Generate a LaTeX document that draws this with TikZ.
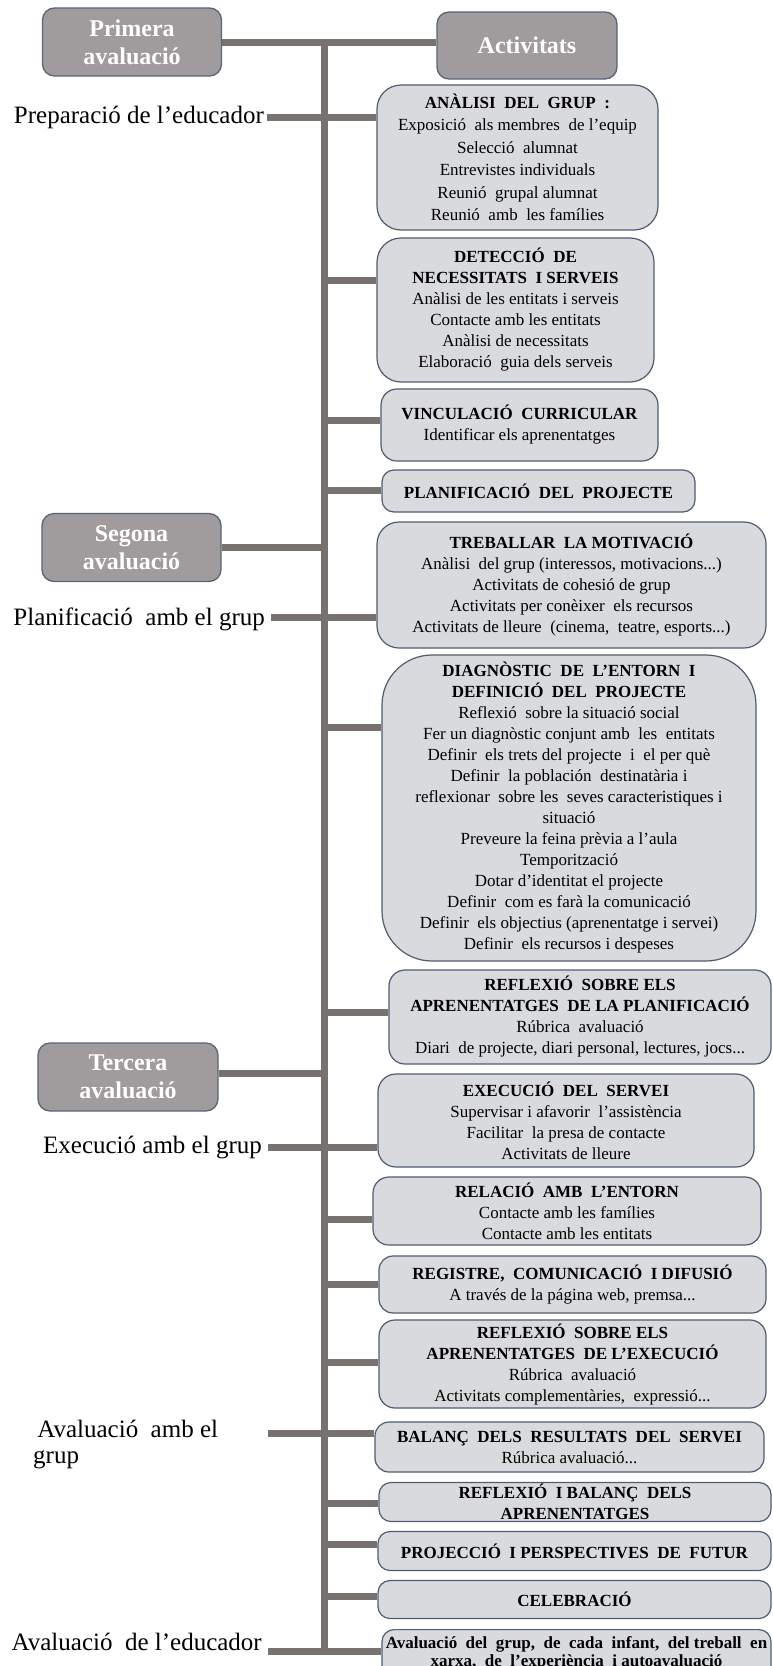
\documentclass[tikz,border=0pt]{standalone}
\usepackage{fontspec}
\setmainfont{Liberation Serif}
\definecolor{linecol}{HTML}{77716F}
\definecolor{darkfill}{HTML}{A09B9C}
\definecolor{darkborder}{HTML}{5C6575}
\definecolor{lightfill}{HTML}{D9DADD}
\definecolor{lightborder}{HTML}{4E5D70}
\pgfdeclarelayer{bg}
\pgfsetlayers{bg,main}
\tikzset{
  phase/.style={draw=darkborder, fill=darkfill, line width=1.3pt, rounded corners=12pt,
    minimum width=179pt, minimum height=68pt, text=white,
    font=\fontsize{24}{28}\selectfont\bfseries, align=center, inner sep=0pt},
  actbox/.style={draw=lightborder, fill=lightfill, line width=1.2pt, rounded corners=14pt,
    align=center, font=\fontsize{17}{21}\selectfont, inner sep=0pt},
  conn/.style={draw=linecol, line width=7pt},
  lbl/.style={font=\fontsize{25}{28}\selectfont, inner sep=0pt},
}
\begin{document}
\begin{tikzpicture}[x=1pt,y=-1pt]
\clip (0,0) rectangle (772,1666);

% phase boxes
\node[phase] (P1) at (132,42) {Primera\\avaluació};
\node[phase, minimum width=180pt, minimum height=67pt] (Act) at (527,45.5) {Activitats};
\node[phase] (Seg) at (131.5,547.5) {Segona\\avaluació};
\node[phase, minimum width=180pt] (Ter) at (128,1077) {Tercera\\avaluació};

% labels
\node[lbl, anchor=base east] (Lprep) at (264,123) {Preparació de l’educador};
\node[lbl, anchor=base east] (Lplan) at (265,625) {Planificació\ \ amb el grup};
\node[lbl, anchor=base east] (Lexec) at (262,1153) {Execució amb el grup};
\node[lbl, anchor=north west, align=left, font=\fontsize{25}{26}\selectfont] (Laval) at (33,1420) {\,Avaluació\ \ amb el\\grup};
\node[lbl, anchor=base east] (Ledu) at (262,1650) {Avaluació\ \ de l’educador};

% activity boxes
\node[actbox, rounded corners=24pt, minimum width=281pt, minimum height=145pt, font=\fontsize{17}{22.5}\selectfont] (A) at (517.5,157.5)
  {\textbf{ANÀLISI\ \ DEL\ \ GRUP\ \ :}\\Exposició\ \ als membres\ \ de l’equip\\Selecció\ \ alumnat\\Entrevistes individuals\\Reunió\ \ grupal alumnat\\Reunió\ \ amb\ \ les famílies};
\node[actbox, rounded corners=24pt, minimum width=277pt, minimum height=144pt] (B) at (515.5,310)
  {\textbf{DETECCIÓ\ \ DE}\\\textbf{NECESSITATS\ \ I SERVEIS}\\Anàlisi de les entitats i serveis\\Contacte amb les entitats\\Anàlisi de necessitats\\Elaboració\ \ guia dels serveis};
\node[actbox, rounded corners=16pt, minimum width=277pt, minimum height=72pt] (C) at (519.5,425)
  {\textbf{VINCULACIÓ\ \ CURRICULAR}\\Identificar els aprenentatges};
\node[actbox, rounded corners=12pt, minimum width=313pt, minimum height=42pt] (D) at (538.5,491)
  {\textbf{PLANIFICACIÓ\ \ DEL\ \ PROJECTE}};
\node[actbox, rounded corners=22pt, minimum width=389pt, minimum height=126pt] (E) at (571.5,585)
  {\textbf{TREBALLAR\ \ LA MOTIVACIÓ}\\Anàlisi\ \ del grup (interessos, motivacions...)\\Activitats de cohesió de grup\\Activitats per conèixer\ \ els recursos\\Activitats de lleure\ \ (cinema,\ \ teatre, esports...)};
\node[actbox, rounded corners=50pt, minimum width=374pt, minimum height=306pt] (F) at (569,808)
  {\textbf{DIAGNÒSTIC\ \ DE\ \ L’ENTORN\ \ I}\\\textbf{DEFINICIÓ\ \ DEL\ \ PROJECTE}\\Reflexió\ \ sobre la situació social\\Fer un diagnòstic conjunt amb\ \ les\ \ entitats\\Definir\ \ els trets del projecte\ \ i\ \ el per què\\Definir\ \ la población\ \ destinatària i\\reflexionar\ \ sobre les\ \ seves caracteristiques i\\situació\\Preveure la feina prèvia a l’aula\\Temporització\\Dotar d’identitat el projecte\\Definir\ \ com es farà la comunicació\\Definir\ \ els objectius (aprenentatge i servei)\\Definir\ \ els recursos i despeses};
\node[actbox, rounded corners=16pt, minimum width=382pt, minimum height=94pt] (G) at (580,1017)
  {\textbf{REFLEXIÓ\ \ SOBRE ELS}\\\textbf{APRENENTATGES\ \ DE LA PLANIFICACIÓ}\\Rúbrica\ \ avaluació\\Diari\ \ de projecte, diari personal, lectures, jocs...};
\node[actbox, rounded corners=18pt, minimum width=376pt, minimum height=93pt] (H) at (566,1120.5)
  {\textbf{EXECUCIÓ\ \ DEL\ \ SERVEI}\\Supervisar i afavorir\ \ l’assistència\\Facilitar\ \ la presa de contacte\\Activitats de lleure};
\node[actbox, rounded corners=16pt, minimum width=388pt, minimum height=68pt] (I) at (567,1211)
  {\textbf{RELACIÓ\ \ AMB\ \ L’ENTORN}\\Contacte amb les famílies\\Contacte amb les entitats};
\node[actbox, rounded corners=14pt, minimum width=387pt, minimum height=57pt] (J) at (572.5,1284.5)
  {\textbf{REGISTRE,\ \ COMUNICACIÓ\ \ I DIFUSIÓ}\\A través de la página web, premsa...};
\node[actbox, rounded corners=16pt, minimum width=387pt, minimum height=88pt] (K) at (572.5,1364)
  {\textbf{REFLEXIÓ\ \ SOBRE ELS}\\\textbf{APRENENTATGES\ \ DE L’EXECUCIÓ}\\Rúbrica\ \ avaluació\\Activitats complementàries,\ \ expressió...};
\node[actbox, rounded corners=14pt, minimum width=389pt, minimum height=50pt] (L) at (569.5,1447)
  {\textbf{BALANÇ\ \ DELS\ \ RESULTATS\ \ DEL\ \ SERVEI}\\Rúbrica avaluació...};
\node[actbox, rounded corners=12pt, minimum width=392pt, minimum height=39pt] (M) at (575,1502)
  {\textbf{REFLEXIÓ\ \ I BALANÇ\ \ DELS}\\\textbf{APRENENTATGES}};
\node[actbox, rounded corners=12pt, minimum width=393pt, minimum height=39pt] (N) at (574.5,1551)
  {\textbf{PROJECCIÓ\ \ I PERSPECTIVES\ \ DE\ \ FUTUR}};
\node[actbox, rounded corners=12pt, minimum width=393pt, minimum height=38pt] (O) at (574.5,1599.5)
  {\textbf{CELEBRACIÓ}};
\node[actbox, rounded corners=12pt, minimum width=389pt, minimum height=48pt, anchor=north, font=\fontsize{17}{18}\selectfont] (Pf) at (576.5,1629)
  {\textbf{Avaluació\ \ del\ \ grup,\ \ de\ \ cada\ \ infant,\ \ del treball\ \ en}\\\textbf{xarxa,\ \ de\ \ l’experiència\ \ i autoavaluació}};

% trunk and connector coordinates
\coordinate (ttop) at (324,42);
\coordinate (tbot) at (324,1654);
\coordinate (lA) at (267,117);
\coordinate (tB) at (324,280);
\coordinate (tC) at (324,420);
\coordinate (tD) at (324,490);
\coordinate (tSeg) at (324,547);
\coordinate (lE) at (271,617);
\coordinate (tF) at (324,727);
\coordinate (tG) at (324,1012);
\coordinate (tTer) at (324,1073);
\coordinate (lH) at (268,1147);
\coordinate (tI) at (324,1219);
\coordinate (tJ) at (324,1284);
\coordinate (tK) at (324,1362);
\coordinate (lL) at (268,1433);
\coordinate (tM) at (324,1503);
\coordinate (tN) at (324,1544);
\coordinate (tO) at (324,1596);
\coordinate (lP) at (268,1651);

\begin{pgfonlayer}{bg}
\fill[white] (0,0) rectangle (772,1666);
\draw[conn] (P1.east) -- (P1.east -| Act.west);
\draw[conn] (ttop) -- (tbot);
\draw[conn] (lA) -- (A.west |- lA);
\draw[conn] (tB) -- (B.west |- tB);
\draw[conn] (tC) -- (C.west |- tC);
\draw[conn] (tD) -- (D.west |- tD);
\draw[conn] (Seg.east |- tSeg) -- (tSeg);
\draw[conn] (lE) -- (E.west |- lE);
\draw[conn] (tF) -- (F.west |- tF);
\draw[conn] (tG) -- (G.west |- tG);
\draw[conn] (Ter.east |- tTer) -- (tTer);
\draw[conn] (lH) -- (H.west |- lH);
\draw[conn] (tI) -- (I.west |- tI);
\draw[conn] (tJ) -- (J.west |- tJ);
\draw[conn] (tK) -- (K.west |- tK);
\draw[conn] (lL) -- (L.west |- lL);
\draw[conn] (tM) -- (M.west |- tM);
\draw[conn] (tN) -- (N.west |- tN);
\draw[conn] (tO) -- (O.west |- tO);
\draw[conn] (lP) -- (Pf.west |- lP);
\end{pgfonlayer}
\end{tikzpicture}
\end{document}
